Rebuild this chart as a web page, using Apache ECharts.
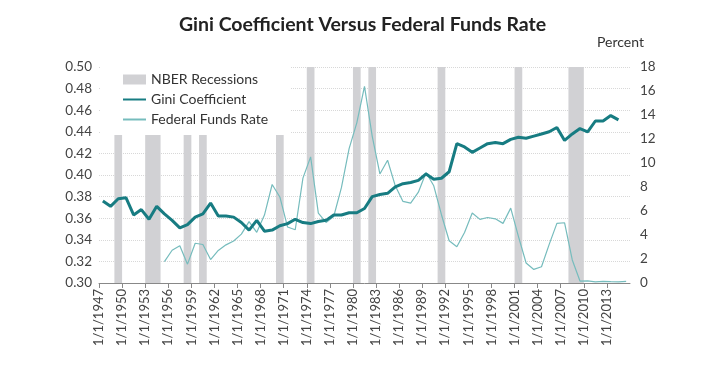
<!DOCTYPE html>
<html>
<head>
<meta charset="utf-8">
<script src="https://cdn.jsdelivr.net/npm/echarts@6/dist/echarts.min.js"></script>
<style>
html,body{margin:0;padding:0;background:#fff;}
#c{width:725px;height:366px;}
</style>
</head>
<body>
<div id="c"></div>
<script>
// Years of the Gini series (annual)
var giniYears = [];
for (var y = 1947; y <= 2014; y++) giniYears.push(y);
var giniValues = [
  0.376,0.371,0.378,0.379,0.363,0.368,0.359,0.371,0.364,0.358,
  0.351,0.354,0.361,0.364,0.374,0.362,0.362,0.361,0.356,0.349,
  0.358,0.348,0.349,0.353,0.355,0.359,0.356,0.355,0.357,0.358,
  0.363,0.363,0.365,0.365,0.369,0.380,0.382,0.383,0.389,0.392,
  0.393,0.395,0.401,0.396,0.397,0.403,0.429,0.426,0.421,0.425,
  0.429,0.430,0.429,0.433,0.435,0.434,0.436,0.438,0.440,0.444,
  0.432,0.438,0.443,0.440,0.450,0.450,0.455,0.451
];
var fedYears = [];
for (var y2 = 1955; y2 <= 2015; y2++) fedYears.push(y2);
var fedValues = [
  1.78,2.73,3.11,1.57,3.31,3.21,1.95,2.71,3.18,3.50,
  4.07,5.11,4.22,5.66,8.21,7.17,4.67,4.44,8.74,10.51,
  5.82,5.05,5.54,7.94,11.20,13.35,16.39,12.24,9.09,10.23,
  8.10,6.80,6.66,7.57,9.21,8.10,5.69,3.52,3.02,4.21,
  5.83,5.30,5.46,5.35,4.97,6.24,3.88,1.67,1.13,1.35,
  3.22,4.97,5.02,1.92,0.16,0.18,0.10,0.14,0.11,0.09,0.13
];
var recessionStart = [1949,1953,1958,1960,1970,1974,1980,1982,1991,2001,2008];
var recessionEnd   = [1950,1955,1959,1961,1971,1975,1981,1983,1992,2002,2010];
var leftTicks = [0.30,0.50,0.02];
var rightTicks = [0,18,2];

var giniData = giniYears.map(function(y,i){return [y+0.5, giniValues[i]];});
var fedData = fedYears.map(function(y,i){return [y+0.5, fedValues[i]];});
var recAreas = recessionStart.map(function(s,i){return [{xAxis:s},{xAxis:recessionEnd[i]}];});

var FONT = 'Lato, "Open Sans", sans-serif';
var chart = echarts.init(document.getElementById('c'), null, {renderer:'canvas'});
chart.setOption({
  animation:false,
  backgroundColor:'#fff',
  title:[{
    text:'Gini Coefficient Versus Federal Funds Rate',
    left:'center', top:15, padding:0,
    textStyle:{fontFamily:FONT, fontSize:19.5, fontWeight:'bold', color:'#222'}
  },{
    text:'Percent', left:597, top:35, padding:0,
    textStyle:{fontFamily:FONT, fontSize:14, fontWeight:'normal', color:'#333'}
  }],
  grid:{left:99, right:95, top:67, bottom:83},
  legend:{
    orient:'vertical', left:100, top:67,
    padding:[5,22,8,22],
    backgroundColor:'#fff',
    itemWidth:23, itemHeight:10, itemGap:5,
    textStyle:{fontFamily:FONT, fontSize:14, color:'#333', lineHeight:15},
    data:[
      {name:'NBER Recessions', icon:'rect'},
      {name:'Gini Coefficient', itemStyle:{opacity:0}},
      {name:'Federal Funds Rate', itemStyle:{opacity:0}}
    ]
  },
  xAxis:{
    type:'value', min:1947, max:2016, interval:3,
    axisLine:{show:true, lineStyle:{color:'#888'}},
    axisTick:{show:true, length:5, lineStyle:{color:'#888'}},
    splitLine:{show:false},
    axisLabel:{
      rotate:90, fontFamily:FONT, fontSize:13, color:'#444', margin:6,
      showMaxLabel:false,
      formatter:function(v){return v<=2013 ? '1/1/'+v : '';}
    }
  },
  yAxis:[{
    type:'value', min:leftTicks[0], max:leftTicks[1], interval:leftTicks[2],
    axisLine:{show:false}, axisTick:{show:false},
    splitLine:{show:true, lineStyle:{color:'#d8d8d8', type:'dotted'}},
    axisLabel:{fontFamily:FONT, fontSize:13.5, color:'#444', margin:7,
      formatter:function(v){return v.toFixed(2);}}
  },{
    type:'value', min:rightTicks[0], max:rightTicks[1], interval:rightTicks[2],
    position:'right',
    axisLine:{show:false}, axisTick:{show:false},
    splitLine:{show:false},
    axisLabel:{fontFamily:FONT, fontSize:13.5, color:'#444', margin:10}
  }],
  series:[{
    name:'NBER Recessions', type:'line', data:[], yAxisIndex:0,
    itemStyle:{color:'#d1d1d4'},
    lineStyle:{color:'#d1d1d4'},
    markArea:{silent:true, itemStyle:{color:'#d1d1d4'}, data:recAreas},
    z:1
  },{
    name:'Gini Coefficient', type:'line', yAxisIndex:0, data:giniData,
    symbol:'none', lineStyle:{color:'#177c82', width:3},
    itemStyle:{color:'#177c82'}, z:3
  },{
    name:'Federal Funds Rate', type:'line', yAxisIndex:1, data:fedData,
    symbol:'none', lineStyle:{color:'#76bcbd', width:1.2},
    itemStyle:{color:'#76bcbd'}, z:2
  }]
});
</script>
</body>
</html>
